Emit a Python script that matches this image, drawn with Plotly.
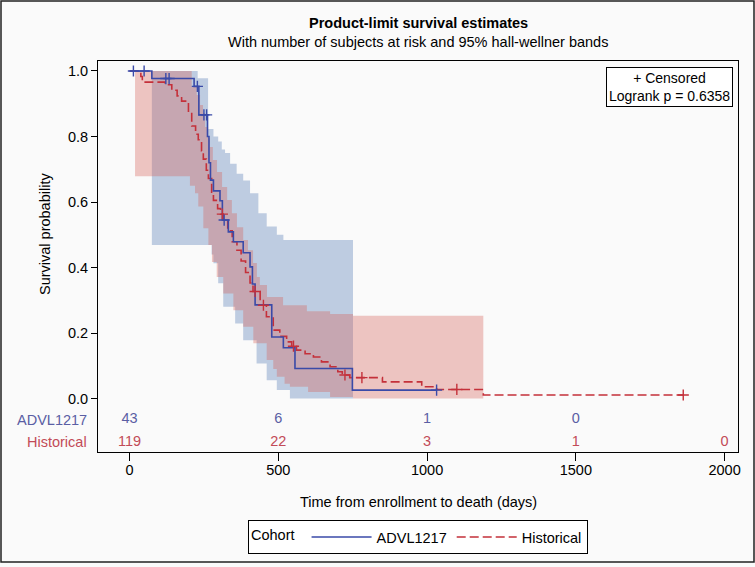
import plotly.graph_objects as go

# ---------------- data ----------------
# ADVL1217 Kaplan-Meier steps: time (days) where each step begins, survival after it
adv_t = [0, 75, 217, 233, 262, 267, 272, 282, 304, 312, 332, 349, 382, 405, 413, 422, 478, 517, 556, 749]
adv_s = [1.0, 0.977, 0.953, 0.866, 0.80, 0.72, 0.667, 0.634, 0.604, 0.545, 0.509, 0.479, 0.445, 0.402,
         0.35, 0.286, 0.188, 0.155, 0.092, 0.026]
adv_end = 1032
adv_cens_t = [13, 49, 122, 133, 228, 250, 259, 318, 1032]
adv_cens_s = [1.0, 1.0, 0.977, 0.977, 0.953, 0.866, 0.866, 0.545, 0.026]

# Historical Kaplan-Meier steps
his_t = [0, 38, 43, 119, 142, 160, 175, 198, 209, 222, 231, 242, 248, 258, 265, 276, 282, 296, 306, 315,
         330, 345, 361, 375, 390, 405, 415, 439, 460, 483, 505, 528, 545, 561, 590, 618, 645, 674, 700,
         715, 740, 850, 982, 1032, 1189]
his_s = [1.0, 0.983, 0.966, 0.958, 0.941, 0.924, 0.908, 0.874, 0.832, 0.807, 0.790, 0.756, 0.731, 0.697,
         0.672, 0.630, 0.605, 0.580, 0.563, 0.546, 0.512, 0.479, 0.453, 0.420, 0.385, 0.353, 0.327, 0.285,
         0.250, 0.209, 0.190, 0.173, 0.160, 0.148, 0.137, 0.127, 0.112, 0.097, 0.082, 0.072, 0.064, 0.051,
         0.036, 0.028, 0.011]
his_end = 1861
his_cens_t = [312, 422, 450, 551, 724, 781, 1100, 1861]
his_cens_s = [0.563, 0.327, 0.285, 0.160, 0.072, 0.064, 0.028, 0.011]

# Hall-Wellner 95% bands (step functions)
adv_up_t = [75, 229, 264, 282, 298, 310, 321, 338, 360, 382, 405, 433, 461, 495, 517]
adv_up_s = [1.0, 0.978, 0.823, 0.80, 0.785, 0.76, 0.75, 0.717, 0.686, 0.666, 0.627, 0.566, 0.525, 0.50, 0.484]
adv_lo_t = [75, 276, 282, 298, 315, 355, 382, 427, 461, 495, 539]
adv_lo_s = [0.469, 0.44, 0.413, 0.352, 0.28, 0.229, 0.178, 0.107, 0.056, 0.026, 0.0]
adv_band_end = 751

his_up_t = [18.5, 209, 226, 237, 247, 254, 264, 270, 280, 294, 311, 328, 344, 361, 382, 398, 415, 428,
            438, 462, 516, 596, 674, 751]
his_up_s = [1.0, 0.952, 0.927, 0.896, 0.872, 0.829, 0.795, 0.768, 0.728, 0.692, 0.646, 0.606, 0.566,
            0.523, 0.484, 0.453, 0.414, 0.371, 0.347, 0.31, 0.285, 0.267, 0.258, 0.253]
his_lo_t = [18.5, 203, 220, 231, 248, 265, 277, 293, 315, 349, 382, 416, 461, 483, 495, 521, 539, 600,
            674, 751]
his_lo_s = [0.679, 0.65, 0.627, 0.586, 0.52, 0.469, 0.417, 0.371, 0.321, 0.27, 0.219, 0.169, 0.118,
            0.09, 0.067, 0.045, 0.036, 0.02, 0.005, 0.0]
his_band_end = 1189

# Number at risk
risk_times = [0, 500, 1000, 1500, 2000]
adv_risk = [43, 6, 1, 0]
his_risk = [119, 22, 3, 1, 0]
x_ticks = [0, 500, 1000, 1500, 2000]
y_ticks = [0.0, 0.2, 0.4, 0.6, 0.8, 1.0]

# ---------------- styling ----------------
W, H = 755, 567
ML, MR, MT, MB = 98, 17, 61, 115
PW, PH = W - ML - MR, H - MT - MB
FONT = "Liberation Sans, Arial, sans-serif"
FS = 14.5
BLUE = "#3a4aa8"
RED = "#c4303a"
BLUE_TXT = "#5a5ea4"
RED_TXT = "#c24b57"
BLUE_FILL = "rgba(100,135,188,0.40)"
RED_FILL = "rgba(214,100,92,0.36)"
BG = "#fafafa"

X_RANGE = [-106, 2045]
Y_RANGE = [-0.163, 1.0305]
ROW_ADV, ROW_HIS = -0.064, -0.133


def px_x(px):
    return (px - ML) / PW


def px_y(py):
    return (H - MB - py) / PH


def step_xy(ts, vs, t_end):
    x, y = [], []
    for i, (t, v) in enumerate(zip(ts, vs)):
        nxt = ts[i + 1] if i + 1 < len(ts) else t_end
        x += [t, nxt]
        y += [v, v]
    return x, y


def band(ut, us, lt, ls, t_end):
    ux, uy = step_xy(ut, us, t_end)
    lx, ly = step_xy(lt, ls, t_end)
    return ux + lx[::-1], uy + ly[::-1]


fig = go.Figure()

bx, by = band(adv_up_t, adv_up_s, adv_lo_t, adv_lo_s, adv_band_end)
fig.add_trace(go.Scatter(x=bx, y=by, fill="toself", fillcolor=BLUE_FILL, line=dict(width=0),
                         mode="lines", showlegend=False, hoverinfo="skip"))
rx, ry = band(his_up_t, his_up_s, his_lo_t, his_lo_s, his_band_end)
fig.add_trace(go.Scatter(x=rx, y=ry, fill="toself", fillcolor=RED_FILL, line=dict(width=0),
                         mode="lines", showlegend=False, hoverinfo="skip"))

fig.add_trace(go.Scatter(x=his_t + [his_end], y=his_s + [his_s[-1]], mode="lines", line_shape="hv",
                         line=dict(color=RED, width=1.6, dash="9px,4px"), name="Historical"))
fig.add_trace(go.Scatter(x=adv_t + [adv_end], y=adv_s + [adv_s[-1]], mode="lines", line_shape="hv",
                         line=dict(color=BLUE, width=1.6), name="ADVL1217"))

fig.add_trace(go.Scatter(x=his_cens_t, y=his_cens_s, mode="markers", showlegend=False, hoverinfo="skip",
                         marker=dict(symbol="cross-thin", size=8, line=dict(color=RED, width=1.4))))
fig.add_trace(go.Scatter(x=adv_cens_t, y=adv_cens_s, mode="markers", showlegend=False, hoverinfo="skip",
                         marker=dict(symbol="cross-thin", size=8, line=dict(color=BLUE, width=1.4))))

# at-risk rows
fig.add_trace(go.Scatter(x=risk_times[:len(adv_risk)], y=[ROW_ADV] * len(adv_risk), mode="text",
                         text=[str(v) for v in adv_risk], textfont=dict(color=BLUE_TXT, size=FS, family=FONT),
                         showlegend=False, hoverinfo="skip"))
fig.add_trace(go.Scatter(x=risk_times, y=[ROW_HIS] * len(his_risk), mode="text",
                         text=[str(v) for v in his_risk], textfont=dict(color=RED_TXT, size=FS, family=FONT),
                         showlegend=False, hoverinfo="skip"))


def note(text, x, y, xref="paper", yref="paper", **kw):
    d = dict(text=text, x=x, y=y, xref=xref, yref=yref, showarrow=False, xanchor="center",
             yanchor="middle", font=dict(size=FS, family=FONT, color="black"))
    d.update(kw)
    return d


ann = [
    note("<b>Product-limit survival estimates</b>", 0.5, px_y(23)),
    note("With number of subjects at risk and 95% hall-wellner bands", 0.5, px_y(42)),
    note("Time from enrollment to death (days)", 0.5, px_y(502)),
    note("Survival probability", px_x(45), px_y(234), textangle=-90),
    note("ADVL1217", px_x(89), ROW_ADV, yref="y", xanchor="right",
         font=dict(size=FS, family=FONT, color=BLUE_TXT)),
    note("Historical", px_x(89), ROW_HIS, yref="y", xanchor="right",
         font=dict(size=FS, family=FONT, color=RED_TXT)),
    note("+ Censored<br>Logrank p = 0.6358", px_x(733), px_y(67), xanchor="right", yanchor="top",
         align="center", bordercolor="black", borderwidth=1, borderpad=2, bgcolor="white",
         font=dict(size=14, family=FONT, color="black")),
]

shapes = [
    dict(type="rect", xref="paper", yref="paper", x0=px_x(1), x1=px_x(754), y0=px_y(562), y1=px_y(1),
         line=dict(color="#222", width=1.5), layer="above"),
]

fig.update_layout(
    width=W, height=H, margin=dict(l=ML, r=MR, t=MT, b=MB),
    paper_bgcolor=BG, plot_bgcolor=BG,
    font=dict(family=FONT, size=FS, color="black"),
    annotations=ann, shapes=shapes,
    xaxis=dict(range=X_RANGE, tickvals=x_ticks, ticks="outside", ticklen=8, tickcolor="black",
               showline=True, linecolor="black", linewidth=1, mirror=True, showgrid=False, zeroline=False,
               tickfont=dict(size=FS, family=FONT), ticklabelstandoff=-3),
    yaxis=dict(range=Y_RANGE, tickvals=y_ticks, tickformat=".1f", ticks="outside", ticklen=6,
               tickcolor="black", showline=True, linecolor="black", linewidth=1, mirror=True,
               showgrid=False, zeroline=False, tickfont=dict(size=FS, family=FONT)),
    legend=dict(orientation="h", x=0.5, xanchor="center", y=px_y(537), yanchor="middle",
                title=dict(text="Cohort ", side="left", font=dict(size=FS, family=FONT)),
                bordercolor="black", borderwidth=1, bgcolor="white", font=dict(size=FS, family=FONT),
                traceorder="reversed", itemwidth=60),
    showlegend=True,
)

fig.write_html("out.html", config={"displayModeBar": False},
               post_script="document.body.style.margin='0px';document.body.style.overflow='hidden';")
